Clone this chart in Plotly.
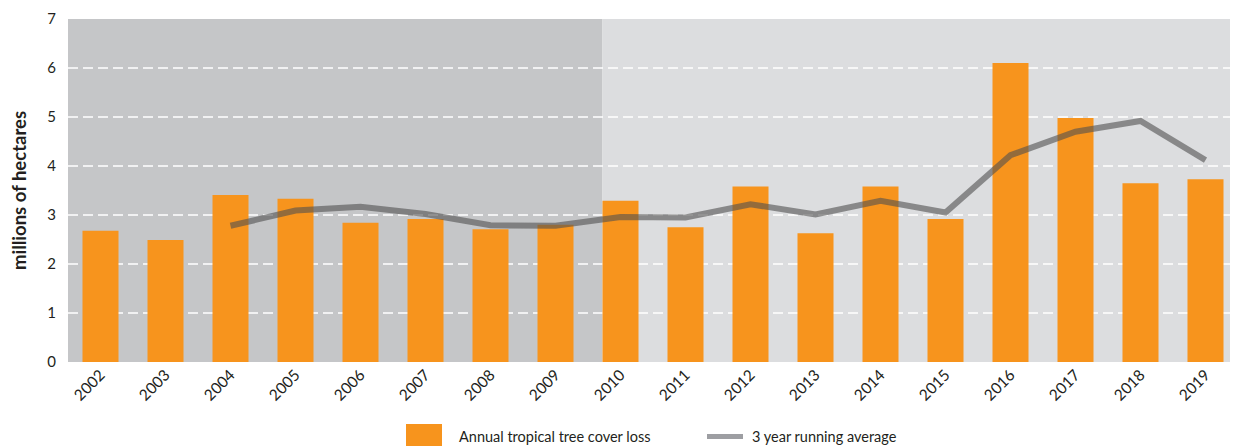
import plotly.graph_objects as go

# ---- data ----
years = ["2002", "2003", "2004", "2005", "2006", "2007", "2008", "2009", "2010",
         "2011", "2012", "2013", "2014", "2015", "2016", "2017", "2018", "2019"]
loss = [2.68, 2.49, 3.41, 3.33, 2.84, 2.92, 2.71, 2.80, 3.29,
        2.75, 3.58, 2.63, 3.58, 2.92, 6.10, 4.98, 3.65, 3.73]
avg_years = ["2004", "2005", "2006", "2007", "2008", "2009", "2010", "2011",
             "2012", "2013", "2014", "2015", "2016", "2017", "2018", "2019"]
running_avg = [2.78, 3.09, 3.17, 3.02, 2.79, 2.78, 2.96, 2.95,
               3.22, 3.01, 3.29, 3.05, 4.22, 4.70, 4.92, 4.12]
y_ticks = [0, 1, 2, 3, 4, 5, 6, 7]
shade_end_year = "2010"
legend_labels = ["Annual tropical tree cover loss", "3 year running average"]

# ---- style ----
OFF = 8  # page body margin
W, H = 1238 - OFF, 446 - OFF
ML, MR, MT, MB = 68 - OFF, 0, 19 - OFF, 84
PW, PH = W - ML - MR, H - MT - MB
ORANGE = "#f7941d"
LINE = "rgba(80,80,80,0.6)"
DARK_BG = "#c5c6c8"
LIGHT_BG = "#dcdddf"
TXT = "#231f20"
FONT = "Lato"
BAR_W = 0.554


def px_x(p):
    return (p - OFF - ML) / PW


def px_y(p):
    return (MT + PH - (p - OFF)) / PH


fig = go.Figure()
fig.add_trace(go.Bar(x=years, y=loss, marker=dict(color=ORANGE, line=dict(width=0)),
                     width=BAR_W, name=legend_labels[0], showlegend=False))
fig.add_trace(go.Scatter(x=avg_years, y=running_avg, mode="lines",
                         line=dict(color=LINE, width=6),
                         name=legend_labels[1], showlegend=False))

x_lo, x_hi = -0.5, len(years) - 0.5
shade_x = years.index(shade_end_year) - BAR_W / 2
shapes = [
    dict(type="rect", xref="x", yref="y", x0=x_lo, x1=shade_x, y0=0, y1=y_ticks[-1],
         fillcolor=DARK_BG, line=dict(width=0), layer="below"),
    dict(type="rect", xref="x", yref="y", x0=shade_x, x1=x_hi, y0=0, y1=y_ticks[-1],
         fillcolor=LIGHT_BG, line=dict(width=0), layer="below"),
]
for v in y_ticks[1:-1]:
    shapes.append(dict(type="line", xref="x", yref="y", x0=x_lo, x1=x_hi, y0=v, y1=v,
                       line=dict(color="white", width=1.6, dash="10px,5px"), layer="below"))

# custom legend
shapes.append(dict(type="rect", xref="paper", yref="paper",
                   x0=px_x(406), x1=px_x(442), y0=px_y(446), y1=px_y(424),
                   fillcolor=ORANGE, line=dict(width=0)))
shapes.append(dict(type="line", xref="paper", yref="paper",
                   x0=px_x(707), x1=px_x(743), y0=px_y(436.5), y1=px_y(436.5),
                   line=dict(color="#9d9ea2", width=5)))

annotations = [
    dict(text=legend_labels[0], xref="paper", yref="paper", x=px_x(457), y=px_y(436),
         xanchor="left", yanchor="middle", showarrow=False,
         font=dict(family=FONT, size=14.5, color=TXT)),
    dict(text=legend_labels[1], xref="paper", yref="paper", x=px_x(750), y=px_y(436),
         xanchor="left", yanchor="middle", showarrow=False,
         font=dict(family=FONT, size=14.5, color=TXT)),
]

fig.update_layout(
    width=W, height=H,
    margin=dict(l=ML, r=MR, t=MT, b=MB, autoexpand=False),
    paper_bgcolor="white", plot_bgcolor="white",
    shapes=shapes, annotations=annotations,
    showlegend=False,
    font=dict(family=FONT, color=TXT),
)
fig.update_xaxes(type="category", range=[x_lo, x_hi], tickangle=-45,
                 showgrid=False, zeroline=False, showline=False, ticks="",
                 tickfont=dict(family=FONT, size=15.5, color=TXT), automargin=False)
fig.update_yaxes(range=[0, y_ticks[-1]], tickvals=y_ticks, showgrid=False, zeroline=False,
                 showline=False, ticks="outside", ticklen=8, tickcolor="rgba(0,0,0,0)",
                 tickfont=dict(family=FONT, size=15, color=TXT),
                 title=dict(text="millions of hectares", standoff=16,
                            font=dict(family=FONT, size=18.5, color=TXT, weight="bold")),
                 automargin=False)

fig.write_html("out.html")
